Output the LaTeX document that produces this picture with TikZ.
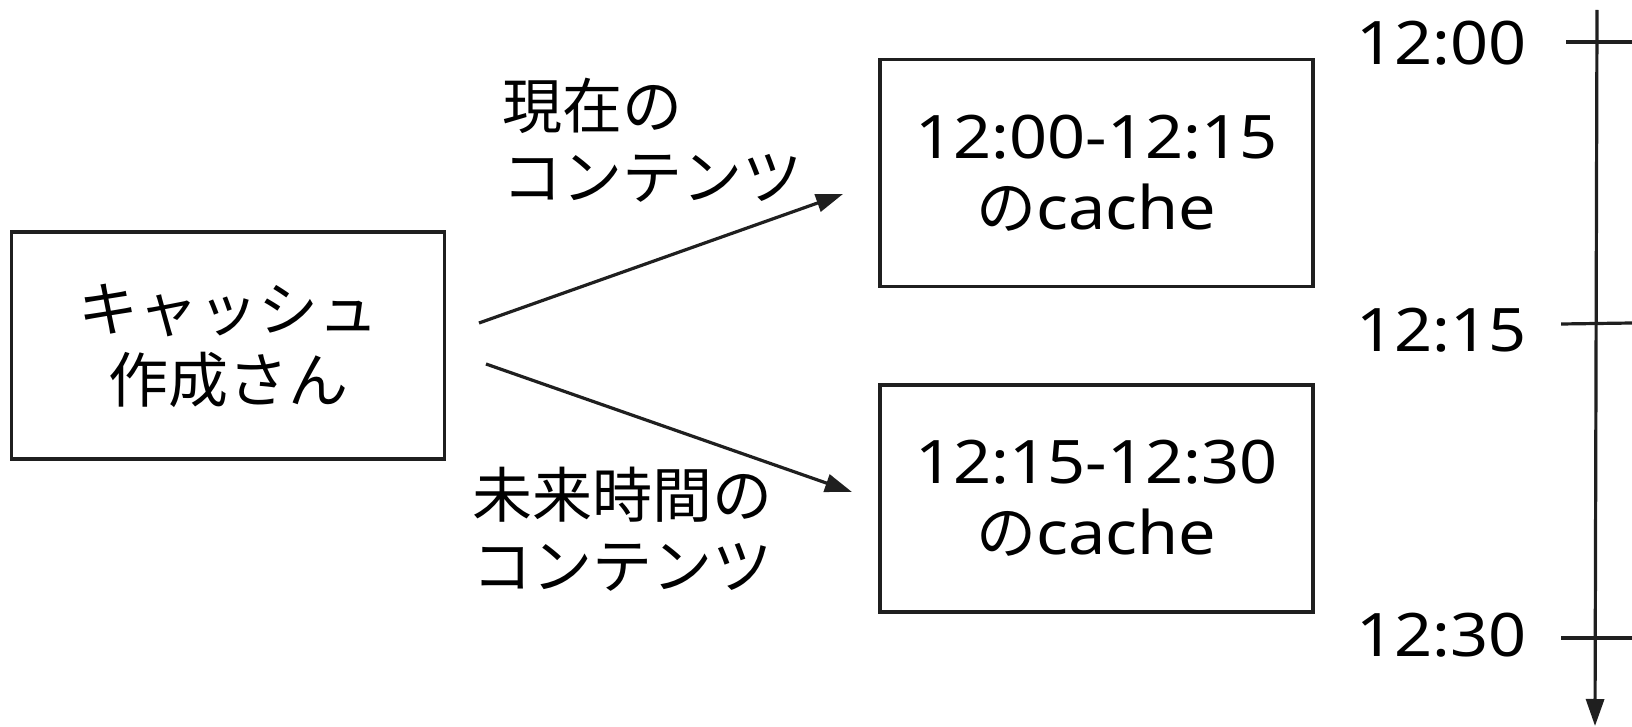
\documentclass[tikz,border=0pt]{standalone}
\usepackage{fontspec}
\setmainfont{Noto Sans}[FakeStretch=1.11]
\newfontfamily\cjk{Noto Sans CJK JP}
\usetikzlibrary{arrows.meta}
\begin{document}
\begin{tikzpicture}[x=0.5pt,y=-0.5pt,
  every node/.style={inner sep=0pt,outer sep=0pt},
  txt/.style={font=\fontsize{30}{35.5}\selectfont,text=black},
  boxnode/.style={draw=black!88,line width=1.6pt,txt,align=center,
    minimum width=216.5pt,minimum height=113.5pt},
  lbl/.style={txt,align=left,anchor=north west},
  tlbl/.style={txt,anchor=east},
  conn/.style={line width=1.6pt,draw=black!88,-{Triangle[length=13.5pt,width=9pt]}},
  tick/.style={line width=1.6pt,draw=black!88}]
\useasboundingbox (0,0) rectangle (1632,727);
\node[boxnode] (maker) at (228,345.5) {{\cjk キャッシュ}\\{\cjk 作成さん}};
\node[boxnode] (now) at (1096.5,173) {12:00-12:15\\{\cjk の}cache};
\node[boxnode] (future) at (1096.5,498.5) {12:15-12:30\\{\cjk の}cache};
\node[lbl] (lnow) at (502,78) {{\cjk 現在の}\\{\cjk コンテンツ}};
\node[lbl] (lfut) at (472,467) {{\cjk 未来時間の}\\{\cjk コンテンツ}};
\coordinate (a1) at (479,323);
\coordinate (a1e) at (843,194);
\coordinate (a2) at (486,364);
\coordinate (a2e) at (852,492);
\draw[conn] (a1) -- (a1e);
\draw[conn] (a2) -- (a2e);
\coordinate (ttop) at (1597,10);
\coordinate (tbot) at (1595,726);
\draw[conn] (ttop) -- (tbot);
\coordinate (t1a) at (1566,42);
\coordinate (t1b) at (1632,42);
\coordinate (t2a) at (1561,324);
\coordinate (t2b) at (1632,323);
\coordinate (t3a) at (1561,638);
\coordinate (t3b) at (1632,638);
\draw[tick] (t1a) -- (t1b);
\draw[tick] (t2a) -- (t2b);
\draw[tick] (t3a) -- (t3b);
\node[tlbl] (l1200) at (1527,43) {12:00};
\node[tlbl] (l1215) at (1527,330) {12:15};
\node[tlbl] (l1230) at (1527,635) {12:30};
\end{tikzpicture}
\end{document}
